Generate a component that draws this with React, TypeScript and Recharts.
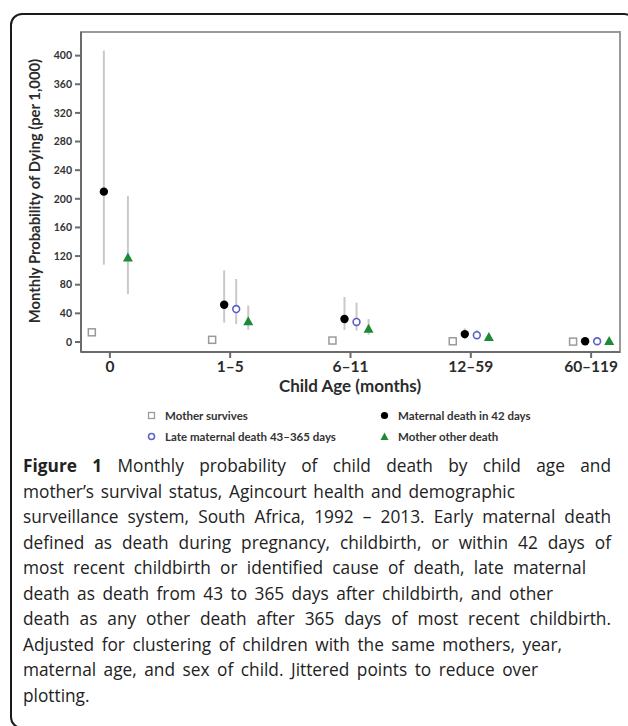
import React from 'react';
import {
  ScatterChart,
  Scatter,
  XAxis,
  YAxis,
  ErrorBar,
  ReferenceArea,
} from 'recharts';

// child age groups (x categories)
const ageGroups = ['0', '1–5', '6–11', '12–59', '60–119'];
const yTicks = [0, 40, 80, 120, 160, 200, 240, 280, 320, 360, 400];

// monthly probability of dying per 1,000, with 95% CI
const survives = [13.5, 3, 2, 1, 0.5];

const earlyDeath = [210, 52, 32, 11, 1];
const earlyLo = [108, 27, 17, 4, 0];
const earlyHi = [407, 100, 63, 19, 3];

const lateDeath = [null, 46, 28, 9.5, 1];
const lateLo = [null, 25, 16, 5, 0];
const lateHi = [null, 88, 55, 17, 3];

const otherDeath = [118, 29, 18.5, 7, 1.5];
const otherLo = [67, 17, 10, 4, 0.5];
const otherHi = [204, 51, 32, 11, 3];

// jitter applied to each series (in category units)
const jitter = [-0.15, -0.05, 0.05, 0.15];

const captionLines = [
  'Monthly probability of child death by child age and',
  'mother’s survival status, Agincourt health and demographic',
  'surveillance system, South Africa, 1992 – 2013. Early maternal death',
  'defined as death during pregnancy, childbirth, or within 42 days of',
  'most recent childbirth or identified cause of death, late maternal',
  'death as death from 43 to 365 days after childbirth, and other',
  'death as any other death after 365 days of most recent childbirth.',
  'Adjusted for clustering of children with the same mothers, year,',
  'maternal age, and sex of child. Jittered points to reduce over',
  'plotting.',
];
// set width of each caption line, as in the typeset figure (0 = natural)
const captionWidths = [588, 492, 588, 588, 563, 530, 588, 539, 515, 0];

type Pt = { x: number; y: number; err?: [number, number] };

function build(
  vals: (number | null)[],
  j: number,
  lo?: (number | null)[],
  hi?: (number | null)[]
): Pt[] {
  const out: Pt[] = [];
  vals.forEach((v, i) => {
    if (v == null) return;
    const p: Pt = { x: i + j, y: v };
    if (lo && hi) p.err = [v - (lo[i] as number), (hi[i] as number) - v];
    out.push(p);
  });
  return out;
}

const survData = build(survives, jitter[0]);
const earlyData = build(earlyDeath, jitter[1], earlyLo, earlyHi);
const lateData = build(lateDeath, jitter[2], lateLo, lateHi);
const otherData = build(otherDeath, jitter[3], otherLo, otherHi);

const GREY = '#9a9a9a';
const BLUE = '#5c60c4';
const GREEN = '#1d8a36';
const BAR = '#c9c9c9';
const FONT = 'Lato, "Open Sans", sans-serif';

const SquareShape = (p: any) => (
  <rect x={p.cx - 3.5} y={p.cy - 3.5} width={7} height={7} fill="#fff" stroke={GREY} strokeWidth={1.5} />
);
const DotShape = (p: any) => <circle cx={p.cx} cy={p.cy} r={4.2} fill="#000" />;
const RingShape = (p: any) => (
  <circle cx={p.cx} cy={p.cy} r={3.4} fill="#fff" stroke={BLUE} strokeWidth={1.6} />
);
const TriShape = (p: any) => (
  <polygon
    points={`${p.cx},${p.cy - 5} ${p.cx - 5},${p.cy + 4} ${p.cx + 5},${p.cy + 4}`}
    fill={GREEN}
  />
);

const legendItems = [
  { label: 'Mother survives', mark: <rect x={2.5} y={2.5} width={6} height={6} fill="#fff" stroke={GREY} strokeWidth={1.3} />, left: 146, top: 408 },
  { label: 'Late maternal death 43–365 days', mark: <circle cx={5.5} cy={5.5} r={3} fill="#fff" stroke={BLUE} strokeWidth={1.5} />, left: 146, top: 429 },
  { label: 'Maternal death in 42 days', mark: <circle cx={5.5} cy={5.5} r={3.6} fill="#000" />, left: 379, top: 408 },
  { label: 'Mother other death', mark: <polygon points="5.5,1.5 1.5,9 9.5,9" fill={GREEN} />, left: 379, top: 429 },
];

export default function App() {
  return (
    <div
      style={{
        position: 'absolute',
        left: 0,
        top: 0,
        width: 628,
        height: 726,
        overflow: 'hidden',
        background: '#fff',
      }}
    >
      <div
        style={{
          position: 'absolute',
          left: 10,
          top: 13,
          width: 626,
          height: 716,
          border: '2px solid #1a1a1a',
          borderRadius: 12,
          boxSizing: 'border-box',
        }}
      />

      <div style={{ position: 'absolute', left: 0, top: 0 }}>
        <ScatterChart
          width={628}
          height={400}
          margin={{ top: 32, right: 8, bottom: 18, left: 41 }}
        >
          <ReferenceArea
            x1={-0.24}
            x2={4.24}
            y1={-14}
            y2={433}
            fill="none"
            stroke={GREY}
            strokeWidth={2}
            ifOverflow="visible"
          />
          <XAxis
            type="number"
            dataKey="x"
            domain={[-0.24, 4.24]}
            allowDataOverflow
            ticks={[0, 1, 2, 3, 4]}
            tickFormatter={(v: number) => ageGroups[v]}
            height={30}
            stroke="#6b6b6b"
            strokeWidth={2}
            tickSize={6}
            tickMargin={3}
            tick={{ fontSize: 15.5, fill: '#2b2b2b', fontFamily: FONT, fontWeight: 700 }}
          />
          <YAxis
            type="number"
            dataKey="y"
            domain={[-14, 433]}
            allowDataOverflow
            ticks={yTicks}
            width={40}
            stroke="#6b6b6b"
            strokeWidth={2}
            tickSize={6}
            tickMargin={3}
            tick={{ fontSize: 10.5, fill: '#333', fontFamily: FONT, fontWeight: 700 }}
          />
          <Scatter data={survData} shape={SquareShape} isAnimationActive={false} />
          <Scatter data={earlyData} shape={DotShape} isAnimationActive={false}>
            <ErrorBar dataKey="err" direction="y" width={0} stroke={BAR} strokeWidth={2} />
          </Scatter>
          <Scatter data={lateData} shape={RingShape} isAnimationActive={false}>
            <ErrorBar dataKey="err" direction="y" width={0} stroke={BAR} strokeWidth={2} />
          </Scatter>
          <Scatter data={otherData} shape={TriShape} isAnimationActive={false}>
            <ErrorBar dataKey="err" direction="y" width={0} stroke={BAR} strokeWidth={2} />
          </Scatter>
        </ScatterChart>
      </div>

      {/* y axis title */}
      <div
        style={{
          position: 'absolute',
          left: 34 - 160,
          top: 191 - 10,
          width: 320,
          height: 20,
          lineHeight: '20px',
          textAlign: 'center',
          transform: 'rotate(-90deg)',
          fontFamily: FONT,
          fontSize: 14.8,
          fontWeight: 700,
          color: '#2b2b2b',
          whiteSpace: 'nowrap',
        }}
      >
        Monthly Probability of Dying (per 1,000)
      </div>

      {/* x axis title */}
      <div
        style={{
          position: 'absolute',
          left: 350 - 150,
          top: 376,
          width: 300,
          textAlign: 'center',
          fontFamily: FONT,
          fontSize: 17,
          fontWeight: 700,
          color: '#2b2b2b',
          lineHeight: '20px',
        }}
      >
        Child Age (months)
      </div>

      {/* legend */}
      {legendItems.map((it) => (
        <div
          key={it.label}
          style={{
            position: 'absolute',
            left: it.left,
            top: it.top,
            height: 15,
            display: 'flex',
            alignItems: 'center',
            fontFamily: FONT,
            fontSize: 11.5,
            fontWeight: 700,
            color: '#333',
            whiteSpace: 'nowrap',
          }}
        >
          <svg width={11} height={11} style={{ marginRight: 8 }}>
            {it.mark}
          </svg>
          {it.label}
        </div>
      ))}

      {/* caption */}
      <div
        style={{
          position: 'absolute',
          left: 23,
          top: 453,
          width: 588,
          fontFamily: '"Open Sans", sans-serif',
          fontSize: 17.3,
          lineHeight: '25.5px',
          color: '#222',
        }}
      >
        {captionLines.map((line, i) => (
          <div
            key={i}
            style={{
              whiteSpace: 'nowrap',
              width: captionWidths[i] || undefined,
              textAlign: 'left',
              textAlignLast: captionWidths[i] ? 'justify' : 'left',
            }}
          >
            {i === 0 && <b>Figure 1 </b>}
            {line}
          </div>
        ))}
      </div>
    </div>
  );
}
